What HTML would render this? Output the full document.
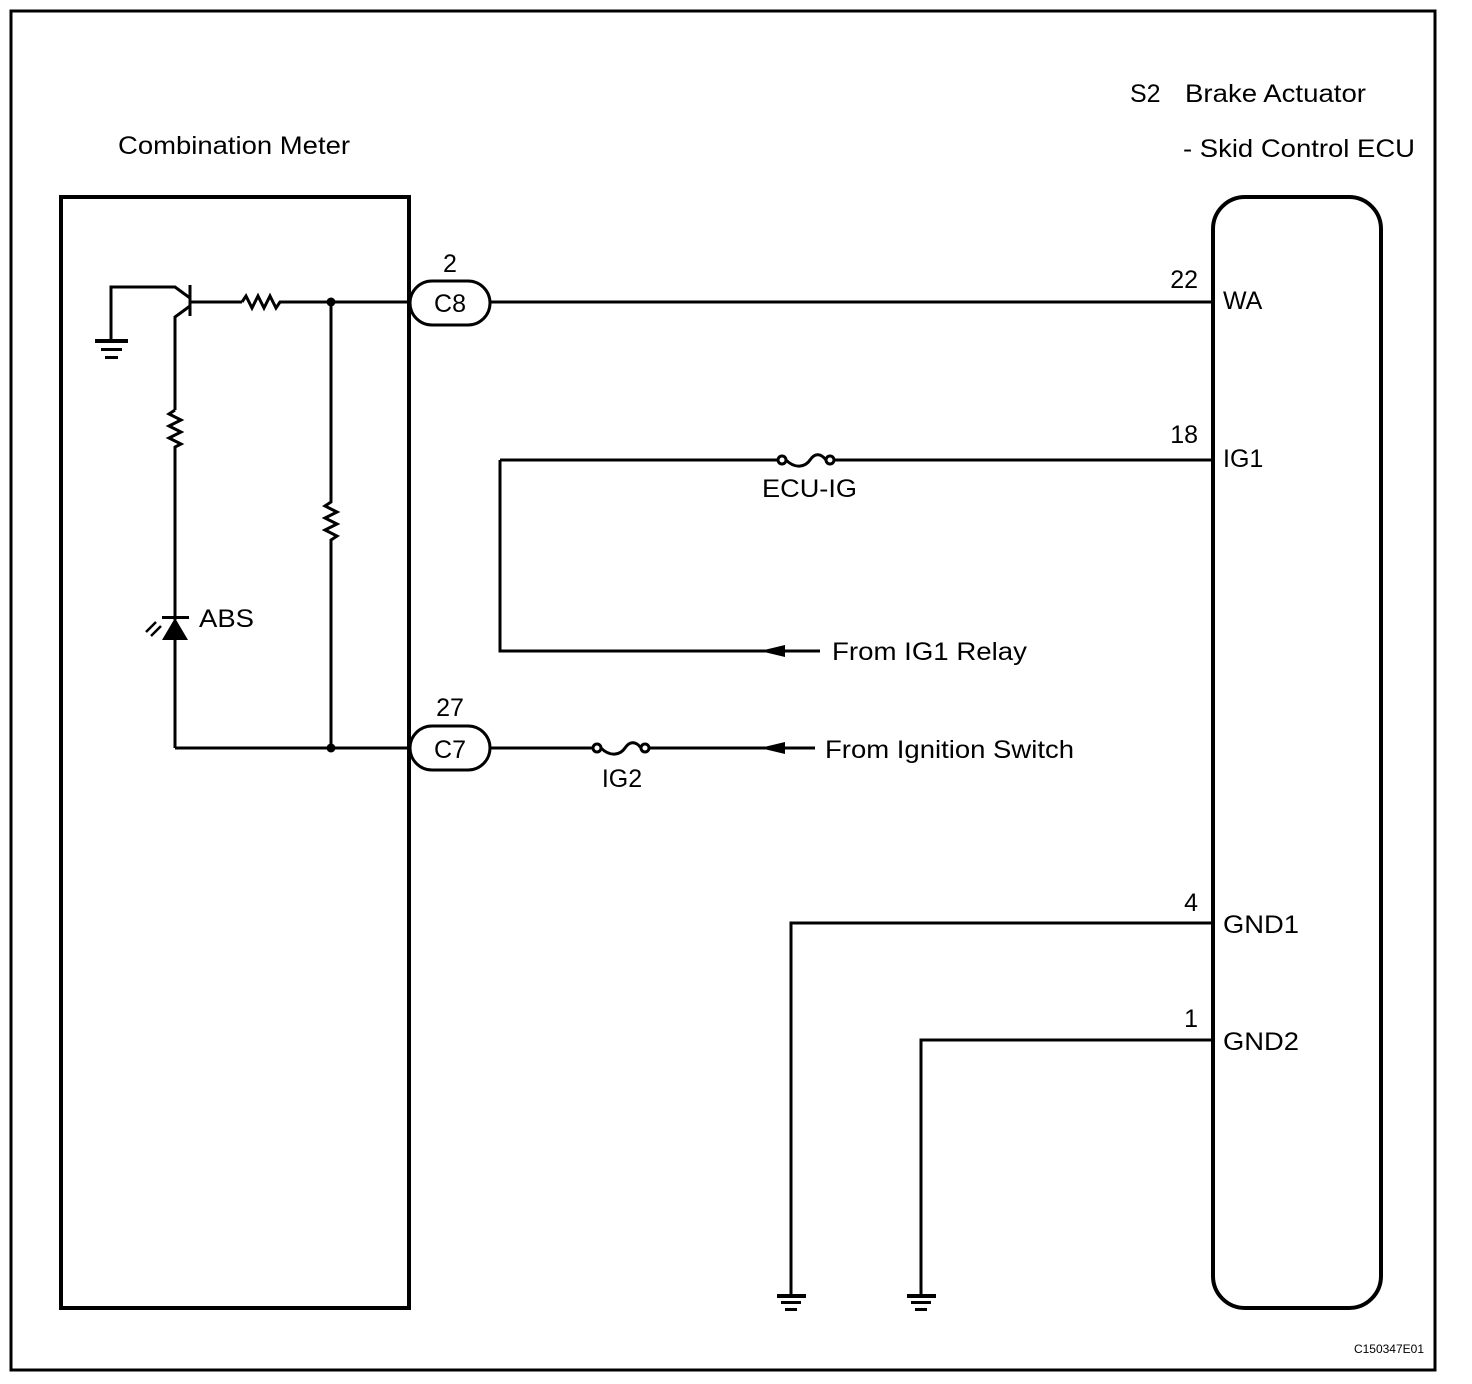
<!DOCTYPE html>
<html><head><style>body{margin:0;background:#fff}svg{display:block}</style></head><body>
<svg width="1472" height="1384" viewBox="0 0 1472 1384" xmlns="http://www.w3.org/2000/svg" font-family="Liberation Sans, Arial, sans-serif" fill="none" stroke="#000">
<rect x="11" y="11" width="1424" height="1359" stroke-width="3"/>
<rect x="61" y="197" width="348" height="1111" stroke-width="4"/>
<rect x="1213" y="197" width="168" height="1111" rx="32" stroke-width="4"/>
<g stroke-width="3">
<line x1="190" y1="285" x2="190" y2="316"/>
<polyline points="111,340 111,287 175,287 190,298"/>
<polyline points="190,306 175,317 175,410"/>
<line x1="190" y1="302" x2="242" y2="302"/>
<polyline points="242,302 246,296 252,308 258,296 264,308 270,296 276,308 280,302 331,302"/>
<line x1="331" y1="302" x2="410" y2="302"/>
<polyline points="175,410 169,414 181,420 169,426 181,432 169,438 181,444 175,447 175,620"/>
<line x1="175" y1="640" x2="175" y2="748"/>
<line x1="175" y1="748" x2="410" y2="748"/>
<polyline points="331,302 331,502 325,506 337,512 325,518 337,524 325,530 337,536 331,540 331,748"/>
<line x1="490" y1="302" x2="1213" y2="302"/>
<line x1="500" y1="460" x2="778" y2="460"/>
<line x1="834" y1="460" x2="1213" y2="460"/>
<polyline points="500,460 500,651 820,651"/>
<line x1="490" y1="748" x2="593" y2="748"/>
<line x1="650" y1="748" x2="815" y2="748"/>
<polyline points="1213,923 791,923 791,1295"/>
<polyline points="1213,1040 921,1040 921,1295"/>
</g>
<g fill="#000" stroke="none">
<rect x="95" y="339" width="33" height="4"/><rect x="101" y="348" width="21" height="3"/><rect x="105" y="356" width="13" height="3"/>
<rect x="777" y="1294" width="29" height="4"/><rect x="781" y="1301" width="20" height="3"/><rect x="785" y="1308" width="12" height="3"/>
<rect x="907" y="1294" width="29" height="4"/><rect x="911" y="1301" width="20" height="3"/><rect x="915" y="1308" width="12" height="3"/>
<circle cx="331" cy="302" r="4.5"/><circle cx="331" cy="748" r="4.5"/>
<polygon points="162,640 188,640 175,618"/>
<rect x="162" y="616" width="27" height="3"/>
<polygon points="760,651 785,645 785,657"/>
<polygon points="760,748 785,742 785,754"/>
</g>
<g stroke-width="2.5"><line x1="146" y1="632" x2="156" y2="622"/><line x1="151" y1="636" x2="161" y2="626"/></g>
<rect x="410" y="281" width="80" height="44" rx="22" stroke-width="3"/>
<rect x="410" y="726" width="80" height="44" rx="22" stroke-width="3"/>
<g stroke-width="3">
<circle cx="782" cy="460" r="4"/><circle cx="830" cy="460" r="4"/>
<path d="M786,460 C796,470 806,466 810,460 C814,454 820,452 826,460"/>
<circle cx="597" cy="748" r="4"/><circle cx="645" cy="748" r="4"/>
<path d="M601,748 C611,758 621,754 625,748 C629,742 635,740 641,748"/>
</g>
<g fill="#000" stroke="none" font-size="25">
<text x="118" y="154" textLength="232" lengthAdjust="spacingAndGlyphs">Combination Meter</text>
<text x="1130" y="102">S2</text>
<text x="1185" y="102" textLength="181" lengthAdjust="spacingAndGlyphs">Brake Actuator</text>
<text x="1183" y="157" textLength="232" lengthAdjust="spacingAndGlyphs">- Skid Control ECU</text>
<text x="450" y="272" text-anchor="middle">2</text>
<text x="450" y="312" text-anchor="middle">C8</text>
<text x="450" y="716" text-anchor="middle">27</text>
<text x="450" y="758" text-anchor="middle">C7</text>
<text x="199" y="627" textLength="55" lengthAdjust="spacingAndGlyphs">ABS</text>
<text x="1198" y="288" text-anchor="end">22</text>
<text x="1223" y="309">WA</text>
<text x="1198" y="443" text-anchor="end">18</text>
<text x="1223" y="467">IG1</text>
<text x="1198" y="911" text-anchor="end">4</text>
<text x="1223" y="933" textLength="76" lengthAdjust="spacingAndGlyphs">GND1</text>
<text x="1198" y="1027" text-anchor="end">1</text>
<text x="1223" y="1050" textLength="76" lengthAdjust="spacingAndGlyphs">GND2</text>
<text x="762" y="497" textLength="95" lengthAdjust="spacingAndGlyphs">ECU-IG</text>
<text x="622" y="787" text-anchor="middle">IG2</text>
<text x="832" y="660" textLength="195" lengthAdjust="spacingAndGlyphs">From IG1 Relay</text>
<text x="825" y="758" textLength="249" lengthAdjust="spacingAndGlyphs">From Ignition Switch</text>
<text x="1424" y="1353" text-anchor="end" font-size="12">C150347E01</text>
</g>
</svg>
</body></html>
